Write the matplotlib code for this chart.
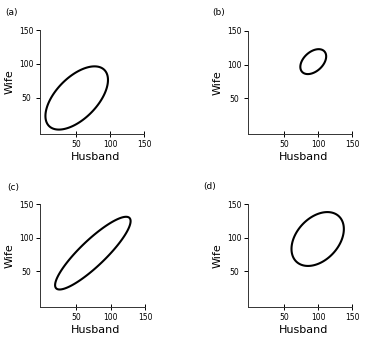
import numpy as np
import matplotlib
matplotlib.use('Agg')
import matplotlib.pyplot as plt
from matplotlib.patches import Polygon

# panel letters and bivariate contour parameters (husband, wife)
panels = ['(a)', '(b)', '(c)', '(d)']
mean_h = [51, 93, 74, 99.5]
mean_w = [50, 104.5, 77, 98]
sd_h = [46, 19, 55, 38.5]
sd_w = [46.5, 18.5, 54, 40]
rho = [0.57, 0.42, 0.88, 0.37]
ticks = [50, 100, 150]

W, H = 371, 345
fig = plt.figure(figsize=(W / 100, H / 100), dpi=100)

# axes boxes in pixels: left, axis y (bottom), right, top
boxes = [(40, 134, 144, 30), (248, 134, 352, 31), (40, 307, 145, 204), (248, 307, 352, 204)]
label_pos = [(5, 12), (212, 13), (7, 187), (203, 186)]

t = np.linspace(0, 2 * np.pi, 400, endpoint=False)
for i in range(4):
    x0, yb, x1, yt = boxes[i]
    ax = fig.add_axes([x0 / W, 1 - yb / H, (x1 - x0) / W, (yb - yt) / H])
    ax.set_xlim(-3, 150)
    ax.set_ylim(-3, 150)
    # ellipse from covariance
    cov = np.array([[sd_h[i] ** 2, rho[i] * sd_h[i] * sd_w[i]],
                    [rho[i] * sd_h[i] * sd_w[i], sd_w[i] ** 2]])
    L = np.linalg.cholesky(cov)
    pts = L @ np.vstack([np.cos(t), np.sin(t)])
    xy = np.column_stack([mean_h[i] + pts[0], mean_w[i] + pts[1]])
    ax.add_patch(Polygon(xy, closed=True, fill=False, edgecolor='black', lw=1.5))

    for s in ['top', 'right']:
        ax.spines[s].set_visible(False)
    for s in ['left', 'bottom']:
        ax.spines[s].set_linewidth(0.7)
        ax.spines[s].set_color('#333333')
    ax.set_xticks(ticks)
    ax.set_yticks(ticks)
    ax.tick_params(axis='x', direction='inout', length=5, width=0.7, labelsize=5.5, pad=2)
    ax.tick_params(axis='y', direction='out', length=3, width=0.7, labelsize=5.5, pad=7)
    for lab in ax.get_yticklabels():
        lab.set_horizontalalignment('center')
    ax.set_xlabel('Husband', fontsize=8)
    ax.xaxis.set_label_coords(0.53, -0.17)
    ax.set_ylabel('Wife', fontsize=8, labelpad=3)
    fig.text(label_pos[i][0] / W, 1 - label_pos[i][1] / H, panels[i], fontsize=6.5,
             ha='left', va='center')

fig.savefig('out.png', dpi=100)
